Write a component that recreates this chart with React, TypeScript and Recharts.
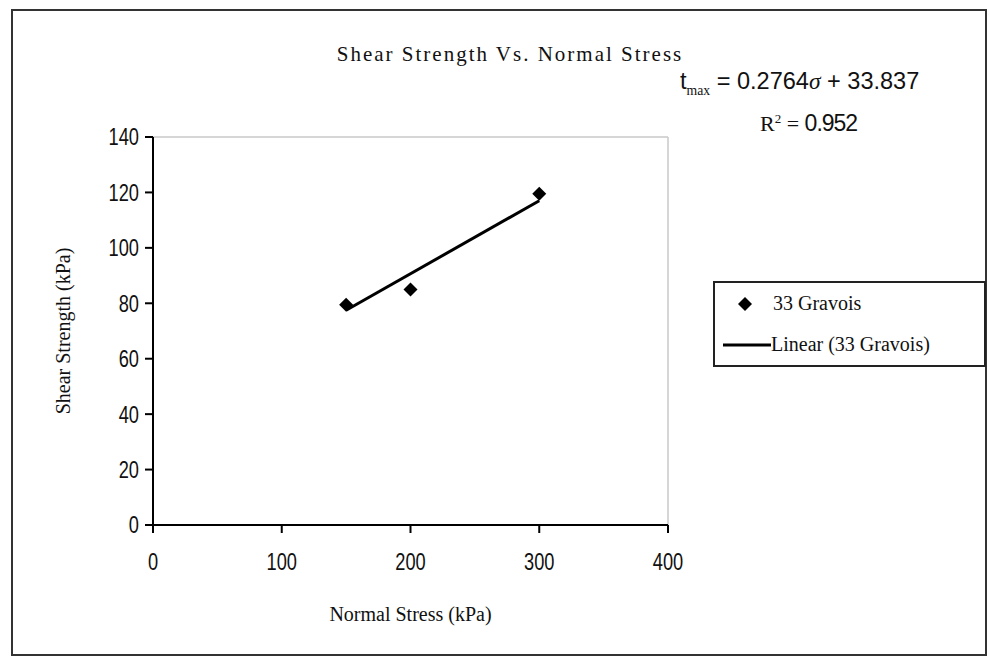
import { ScatterChart, Scatter, XAxis, YAxis, ReferenceLine } from 'recharts';

// measured points (normal stress vs shear strength, kPa)
const normalStress = [150, 200, 300];
const shearStrength = [79.5, 85, 119.5];

// trendline end points
const trendX = [150, 300];
const trendY = [77.5, 117];

const xTicks = [0, 100, 200, 300, 400];
const yTicks = [0, 20, 40, 60, 80, 100, 120, 140];

const points = normalStress.map((x, i) => ({ x, y: shearStrength[i] }));
const trend = trendX.map((x, i) => ({ x, y: trendY[i] }));

const serif = '"Liberation Serif", "DejaVu Serif", serif';
const sans = '"Liberation Sans", Arial, sans-serif';

function Diamond(props: any) {
  const { cx, cy } = props;
  if (cx == null || cy == null) return null;
  const r = 7;
  return <polygon points={`${cx},${cy - r} ${cx + r},${cy} ${cx},${cy + r} ${cx - r},${cy}`} fill="#000" />;
}

// narrow-looking tick labels, like the Arial Narrow of the original
function NarrowTick(props: any) {
  const { x, y, payload, textAnchor, vertical } = props;
  return (
    <text
      transform={`translate(${x},${y}) scale(0.76,1)`}
      textAnchor={textAnchor}
      dy={vertical ? '0.35em' : '0.71em'}
      fill="#111"
      fontSize={24}
      fontFamily={sans}
    >
      {payload.value}
    </text>
  );
}

function LegendBox() {
  return (
    <div
      style={{
        position: 'absolute',
        left: 713,
        top: 281,
        border: '2px solid #222',
        width: 273,
        height: 86,
        boxSizing: 'border-box',
        fontFamily: serif,
        fontSize: 20,
        color: '#111',
        background: '#fff',
      }}
    >
      <div style={{ display: 'flex', alignItems: 'center', height: 41 }}>
        <svg width={58} height={20}>
          <polygon points="30,3 37,10 30,17 23,10" fill="#000" />
        </svg>
        <span>33 Gravois</span>
      </div>
      <div style={{ display: 'flex', alignItems: 'center', height: 41 }}>
        <svg width={56} height={20}>
          <line x1={8} y1={10} x2={56} y2={10} stroke="#000" strokeWidth={3} />
        </svg>
        <span>Linear (33 Gravois)</span>
      </div>
    </div>
  );
}

export default function App() {
  return (
    <div style={{ position: 'absolute', left: 0, top: 0, width: 990, height: 666, background: '#fff' }}>
      <div
        style={{
          position: 'absolute',
          left: 11,
          top: 9,
          width: 976,
          height: 647,
          border: '2px solid #333',
          boxSizing: 'border-box',
        }}
      />
      <div
        style={{
          position: 'absolute',
          left: 0,
          width: 1020,
          top: 42,
          textAlign: 'center',
          fontFamily: serif,
          fontSize: 21,
          letterSpacing: 2,
          color: '#111',
        }}
      >
        Shear Strength Vs. Normal Stress
      </div>
      <div
        style={{
          position: 'absolute',
          left: 680,
          top: 67,
          fontFamily: sans,
          fontSize: 24,
          color: '#111',
          whiteSpace: 'nowrap',
          transform: 'scaleX(0.98)',
          transformOrigin: 'left top',
        }}
      >
        t<sub style={{ fontSize: 14, fontFamily: serif }}>max</sub> = 0.2764<i style={{ fontFamily: serif }}>σ</i> + 33.837
      </div>
      <div
        style={{
          position: 'absolute',
          left: 760,
          top: 110,
          fontFamily: serif,
          fontSize: 22,
          color: '#111',
          whiteSpace: 'nowrap',
        }}
      >
        R<sup style={{ fontSize: 13 }}>2</sup> = <span style={{ fontFamily: sans, fontSize: 23, letterSpacing: -1 }}>0.952</span>
      </div>
      <LegendBox />
      <div style={{ position: 'absolute', left: 0, top: 0 }}>
        <ScatterChart width={990} height={666} margin={{ top: 137, right: 322, bottom: 81, left: 93 }}>
          <XAxis
            type="number"
            dataKey="x"
            domain={[0, 400]}
            ticks={xTicks}
            allowDataOverflow
            axisLine={{ stroke: '#000', strokeWidth: 2 }}
            tickLine={{ stroke: '#000', strokeWidth: 2 }}
            tickSize={8}
            tickMargin={20}
            tick={<NarrowTick />}
            height={60}
            label={{
              value: 'Normal Stress (kPa)',
              position: 'insideBottom',
              offset: -36,
              fill: '#111',
              fontSize: 20,
              fontFamily: serif,
            }}
          />
          <YAxis
            type="number"
            dataKey="y"
            domain={[0, 140]}
            ticks={yTicks}
            allowDataOverflow
            axisLine={{ stroke: '#000', strokeWidth: 2 }}
            tickLine={{ stroke: '#000', strokeWidth: 2 }}
            tickSize={8}
            tickMargin={6}
            tick={<NarrowTick vertical />}
            width={60}
            label={{
              value: 'Shear Strength (kPa)',
              angle: -90,
              position: 'insideLeft',
              offset: -30,
              style: { textAnchor: 'middle' },
              fill: '#111',
              fontSize: 20,
              fontFamily: serif,
            }}
          />
          <ReferenceLine y={140} stroke="#c8c8c8" strokeWidth={1.5} />
          <ReferenceLine x={400} stroke="#c8c8c8" strokeWidth={1.5} />
          <Scatter
            name="Linear (33 Gravois)"
            data={trend}
            line={{ stroke: '#000', strokeWidth: 3 }}
            shape={() => null}
            isAnimationActive={false}
          />
          <Scatter name="33 Gravois" data={points} shape={<Diamond />} isAnimationActive={false} />
        </ScatterChart>
      </div>
    </div>
  );
}
